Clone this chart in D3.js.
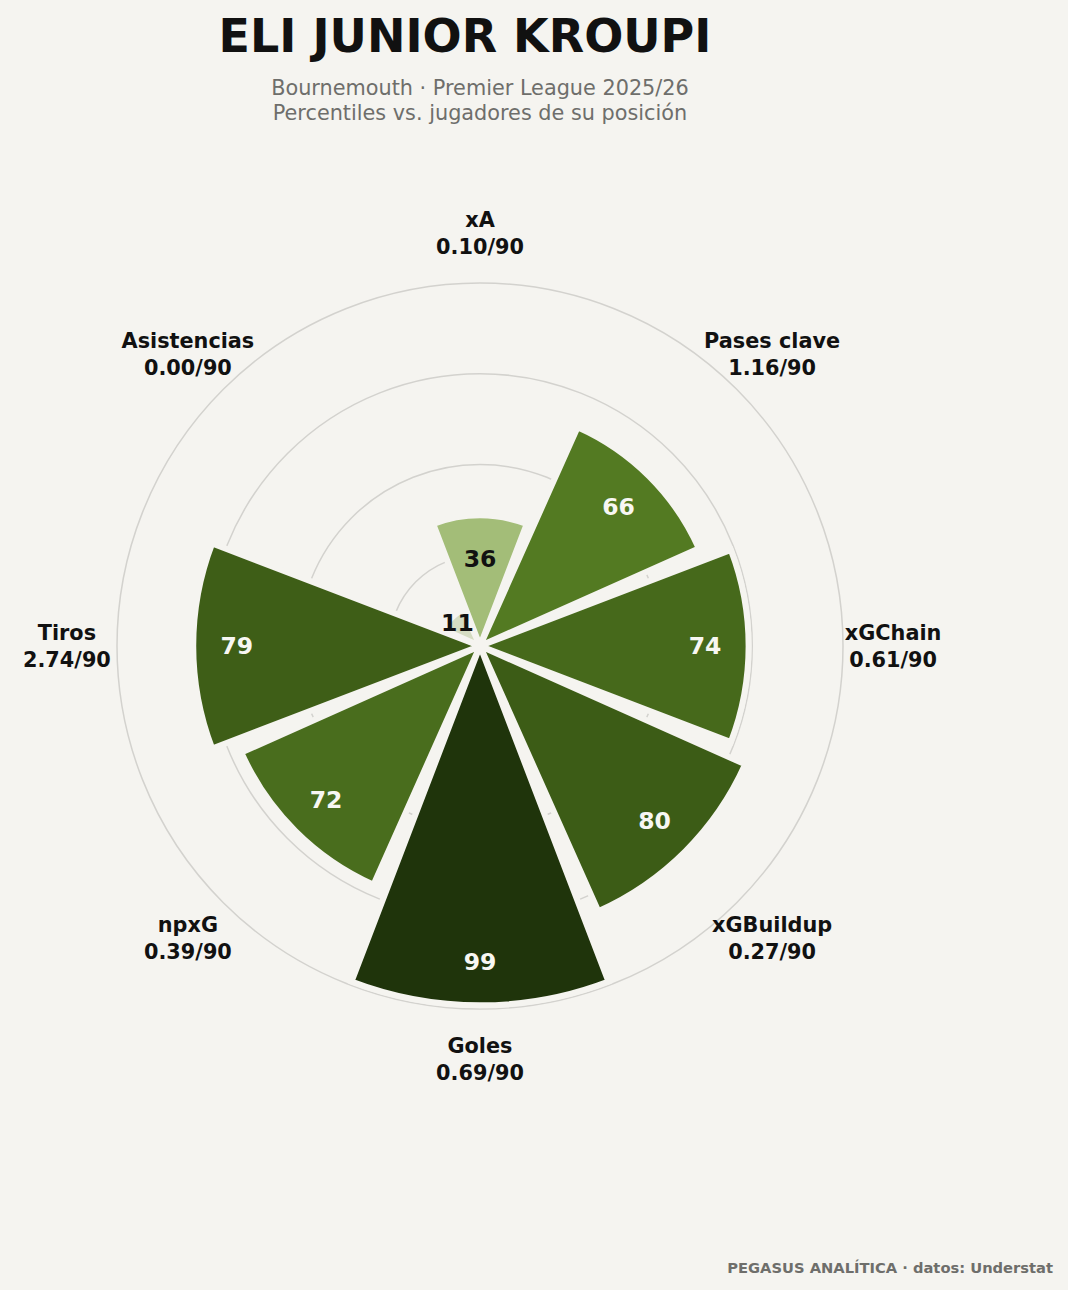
<!DOCTYPE html>
<html>
<head>
<meta charset="utf-8">
<script src="https://cdn.jsdelivr.net/npm/d3@7"></script>
<style>
  html, body { margin: 0; padding: 0; background: #f5f4f0; }
  text { font-family: "DejaVu Sans", sans-serif; }
</style>
</head>
<body>
<div id="radar"></div>
<script>
// Data
const categories = ["xA", "Pases clave", "xGChain", "xGBuildup", "Goles", "npxG", "Tiros", "Asistencias"];
const per90 = ["0.10", "1.16", "0.61", "0.27", "0.69", "0.39", "2.74", "0.00"];
const percentiles = [36, 66, 74, 80, 99, 72, 79, 11];
const gridTicks = [25, 50, 75, 100];

const width = 1068, height = 1290;
const bg = "#f5f4f0";
const cx = 480, cy = 646;
const outerR = 363;

const svg = d3.select("#radar")
    .append("svg")
    .attr("width", width)
    .attr("height", height);

svg.append("rect")
    .attr("width", width)
    .attr("height", height)
    .attr("fill", bg);

// Title + subtitle
svg.append("text")
    .attr("x", 465)
    .attr("y", 52)
    .attr("text-anchor", "middle")
    .style("font-size", "46px")
    .style("font-weight", "bold")
    .attr("fill", "#111111")
    .text("ELI JUNIOR KROUPI");

const subLines = ["Bournemouth · Premier League 2025/26", "Percentiles vs. jugadores de su posición"];
svg.append("g").selectAll("text")
    .data(subLines)
    .enter()
    .append("text")
        .attr("x", 480)
        .attr("y", (d, i) => 95 + i * 25)
        .attr("text-anchor", "middle")
        .style("font-size", "20.8px")
        .attr("fill", "#6e6e6b")
        .text(d => d);

// Scales
const angle = d3.scaleBand()
    .domain(categories)
    .range([-Math.PI / 8, 2 * Math.PI - Math.PI / 8])
    .padding(0);

const radius = d3.scaleLinear()
    .domain([0, 100])
    .range([0, outerR]);

const color = d3.scaleLinear()
    .domain([11, 36, 66, 80, 99])
    .range(["#d5dcc2", "#a3bd78", "#537a22", "#3c5c16", "#1f340b"])
    .interpolate(d3.interpolateRgb);

const plot = svg.append("g")
    .attr("transform", `translate(${cx},${cy})`);

// Grid circles
plot.append("g").selectAll("circle")
    .data(gridTicks)
    .enter()
    .append("circle")
        .attr("r", d => radius(d))
        .attr("fill", "none")
        .attr("stroke", "#d3d2ce")
        .attr("stroke-width", 1.5);

// Bars
const shrink = 0.027;
const arc = d3.arc()
    .innerRadius(0)
    .outerRadius(d => radius(d.value))
    .startAngle(d => angle(d.cat) + shrink)
    .endAngle(d => angle(d.cat) + angle.bandwidth() - shrink);

const rows = categories.map((c, i) => ({cat: c, value: percentiles[i], per90: per90[i]}));

plot.append("g").selectAll("path")
    .data(rows)
    .enter()
    .append("path")
        .attr("d", arc)
        .attr("fill", d => color(d.value))
        .attr("stroke", bg)
        .attr("stroke-width", 6)
        .attr("stroke-linejoin", "miter");

// Value labels inside the bars
const mid = d => angle(d.cat) + angle.bandwidth() / 2;
const valueR = d => radius(d.value >= 20 ? d.value - 12 : d.value * 0.8);
plot.append("g").selectAll("text")
    .data(rows)
    .enter()
    .append("text")
        .attr("x", d => Math.sin(mid(d)) * valueR(d))
        .attr("y", d => -Math.cos(mid(d)) * valueR(d))
        .attr("text-anchor", "middle")
        .attr("dominant-baseline", "central")
        .style("font-size", "23.5px")
        .style("font-weight", "bold")
        .attr("fill", d => d.value >= 50 ? "#f7f7f3" : "#111111")
        .text(d => d.value);

// Category labels around the outside
const labelR = radius(113.8);
const labels = plot.append("g").selectAll("text")
    .data(rows)
    .enter()
    .append("text")
        .attr("text-anchor", "middle")
        .style("font-size", "20.8px")
        .style("font-weight", "bold")
        .attr("fill", "#111111");

labels.append("tspan")
    .attr("x", d => Math.sin(mid(d)) * labelR)
    .attr("y", d => -Math.cos(mid(d)) * labelR - 6)
    .text(d => d.cat);
labels.append("tspan")
    .attr("x", d => Math.sin(mid(d)) * labelR)
    .attr("y", d => -Math.cos(mid(d)) * labelR + 21)
    .text(d => d.per90 + "/90");

// Footer
svg.append("text")
    .attr("x", 1053)
    .attr("y", 1273)
    .attr("text-anchor", "end")
    .style("font-size", "14.7px")
    .style("font-weight", "bold")
    .attr("fill", "#6e6e6b")
    .text("PEGASUS ANALÍTICA · datos: Understat");
</script>
</body>
</html>
